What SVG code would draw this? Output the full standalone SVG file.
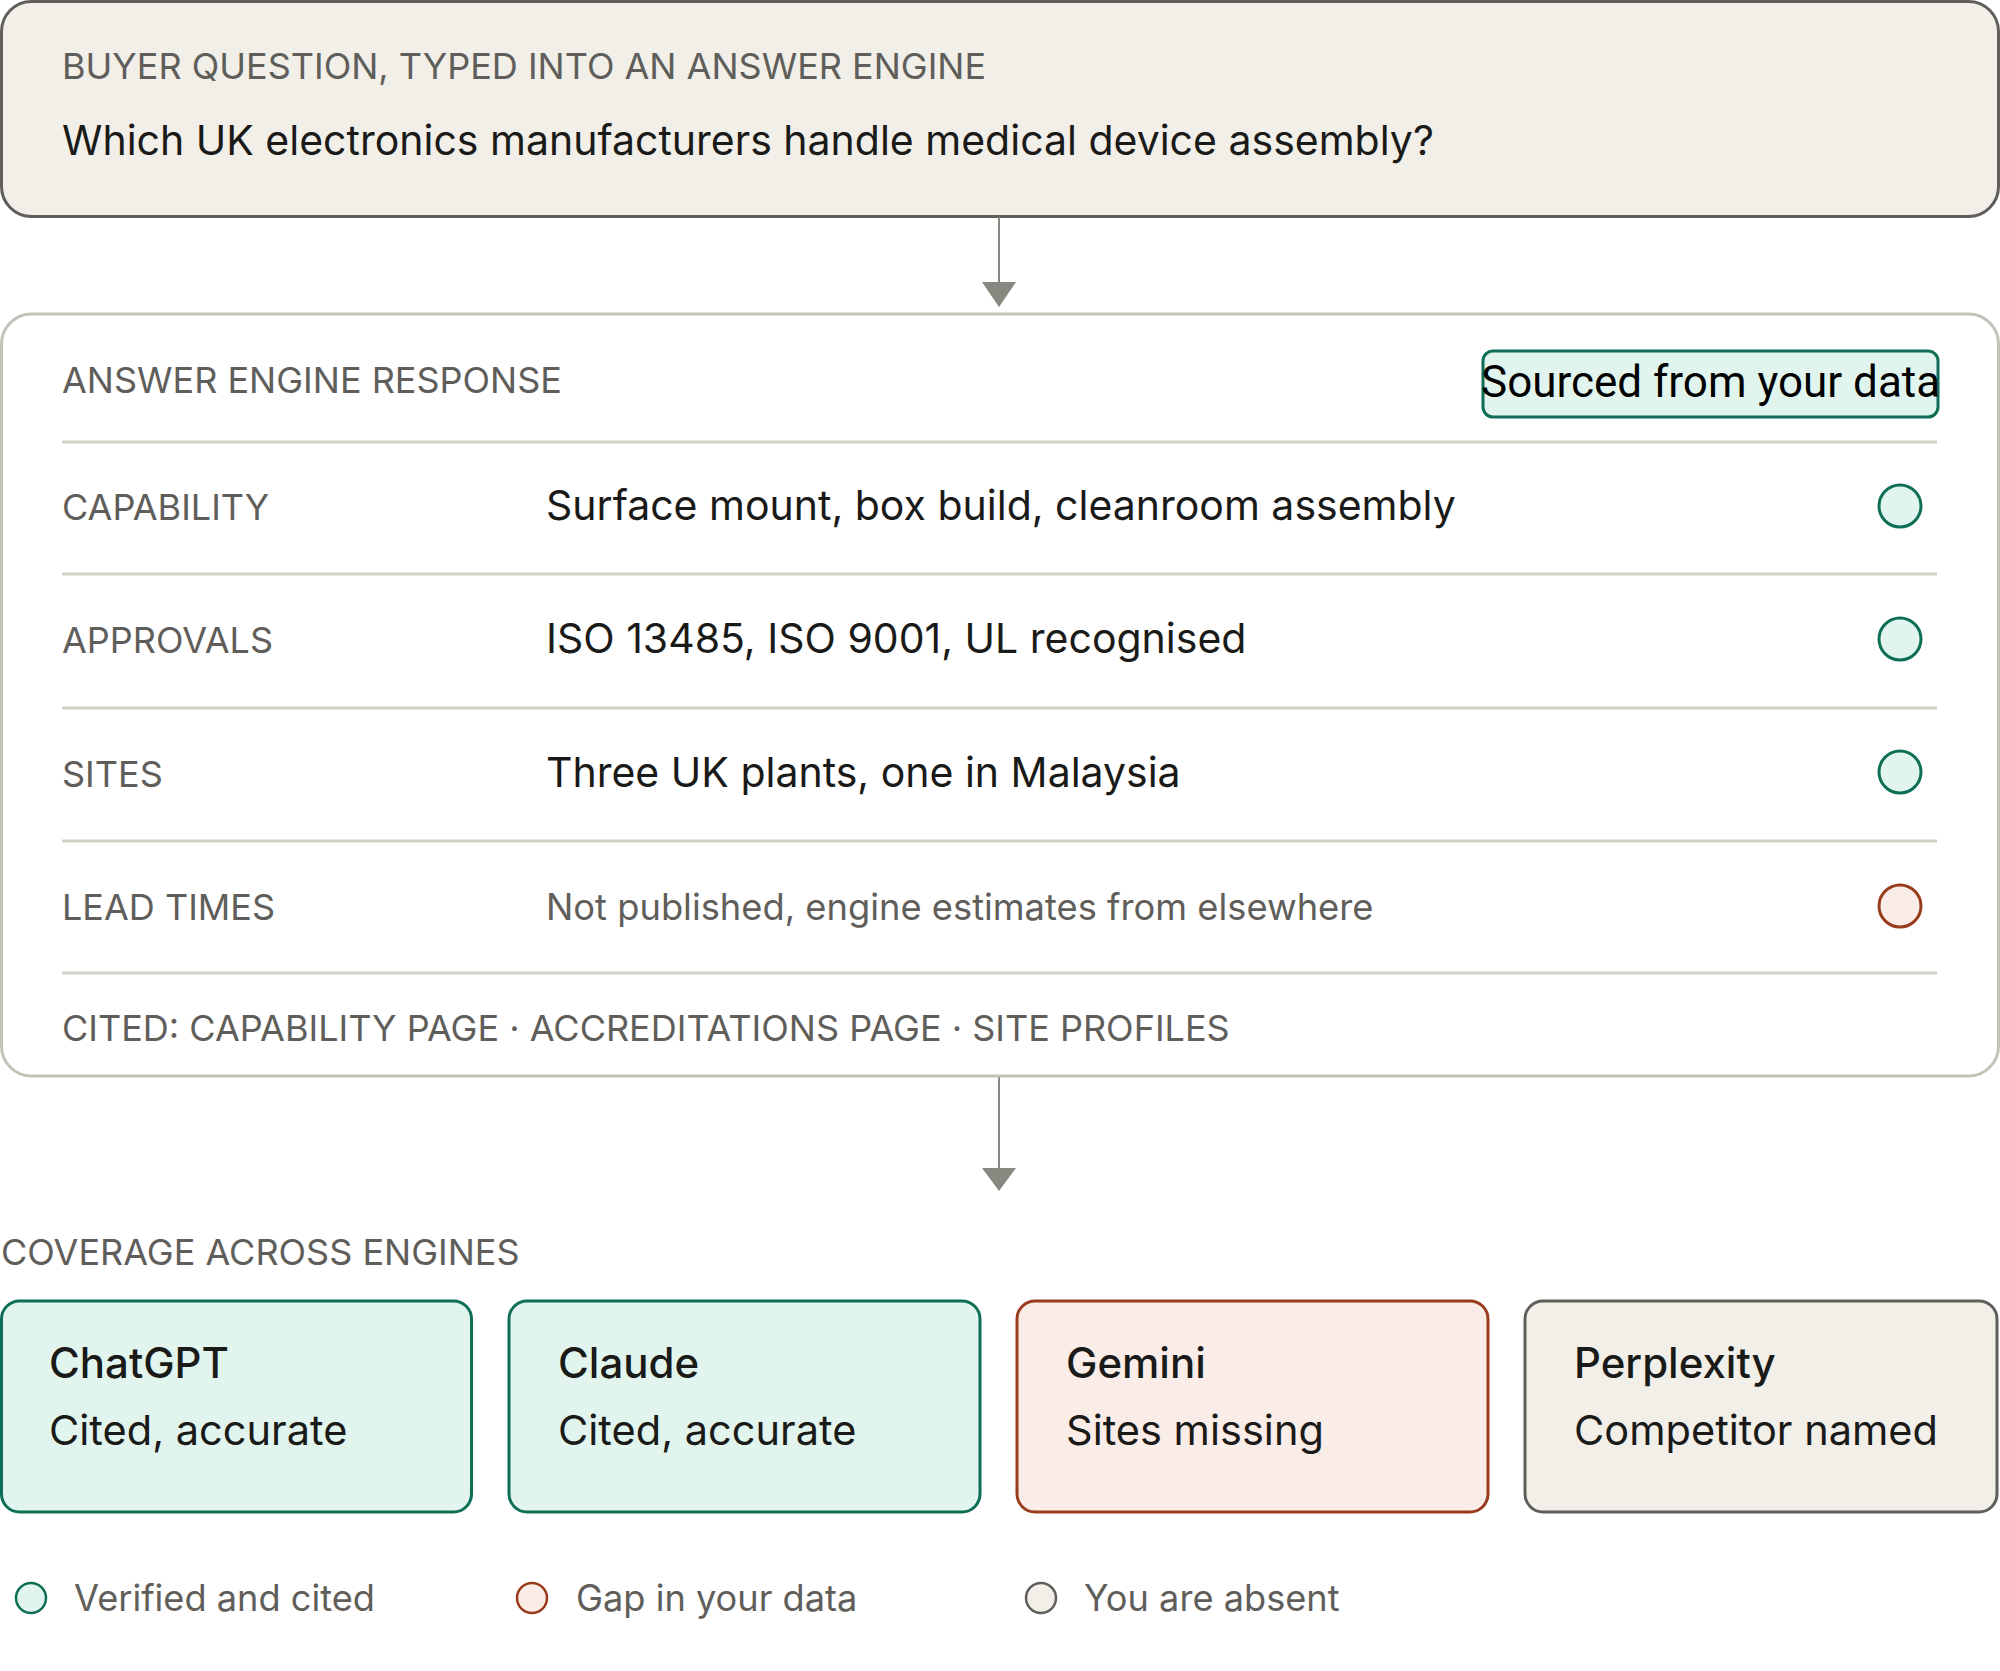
<svg xmlns="http://www.w3.org/2000/svg" width="2000" height="1671" viewBox="0 0 2000 1671">
<style>
text{font-family:"Inter","Noto Sans","Liberation Sans",sans-serif}
.lbl{font-size:36px;fill:#5f5e5a}
.main{font-size:41px;fill:#1a1a18}
.sub{font-size:36.3px;fill:#5f5e5a}
.ttl{font-size:42px;font-weight:500;fill:#1a1a18}
.card{font-size:41.5px;fill:#1a1a18}
.leg{font-size:36.2px;fill:#5f5e5a}
.sep{stroke:#d3d1c7;stroke-width:3}
.ok{fill:#e1f5ee;stroke:#0f6e56;stroke-width:3}
.gap{fill:#faece7;stroke:#993c1d;stroke-width:3}
.abs{fill:#f1efe8;stroke:#5f5e5a;stroke-width:3}
.conn{stroke:#888780;stroke-width:2;fill:none}
.head{fill:#888780}
</style>
<g id="question">
<rect x="1.5" y="1.5" width="1997" height="215" rx="30" fill="#f1efe8" stroke="#5f5e5a" stroke-width="3"/>
<text class="lbl" x="62" y="79">BUYER QUESTION, TYPED INTO AN ANSWER ENGINE</text>
<text class="main" x="62" y="155">Which UK electronics manufacturers handle medical device assembly?</text>
</g>
<g id="connectors">
<line class="conn" x1="999" y1="217" x2="999" y2="284"/>
<path class="head" d="M982,282 L1016,282 L999,307 z"/>
<line class="conn" x1="999" y1="1076" x2="999" y2="1170"/>
<path class="head" d="M982,1168 L1016,1168 L999,1191 z"/>
</g>
<g id="response">
<rect x="1.5" y="314" width="1997" height="762" rx="30" fill="#ffffff" stroke="#c4c2b8" stroke-width="3"/>
<text class="lbl" x="62" y="393">ANSWER ENGINE RESPONSE</text>
<rect x="1483" y="351" width="455" height="66" rx="10" fill="#e1f5ee" stroke="#0f6e56" stroke-width="3"/>
<text x="1481" y="397" style="font-size:44px;fill:#000;font-family:'Roboto','Inter',sans-serif">Sourced from your data</text>
<line class="sep" x1="62" y1="442" x2="1937" y2="442"/>
<line class="sep" x1="62" y1="574" x2="1937" y2="574"/>
<line class="sep" x1="62" y1="708" x2="1937" y2="708"/>
<line class="sep" x1="62" y1="841" x2="1937" y2="841"/>
<line class="sep" x1="62" y1="973" x2="1937" y2="973"/>
<text class="lbl" x="62" y="520">CAPABILITY</text>
<text class="main" x="546" y="520">Surface mount, box build, cleanroom assembly</text>
<circle class="ok" cx="1900" cy="506" r="21"/>
<text class="lbl" x="62" y="653">APPROVALS</text>
<text class="main" x="546" y="653">ISO 13485, ISO 9001, UL recognised</text>
<circle class="ok" cx="1900" cy="639" r="21"/>
<text class="lbl" x="62" y="787">SITES</text>
<text class="main" x="546" y="787">Three UK plants, one in Malaysia</text>
<circle class="ok" cx="1900" cy="772" r="21"/>
<text class="lbl" x="62" y="920">LEAD TIMES</text>
<text class="sub" x="546" y="920">Not published, engine estimates from elsewhere</text>
<circle class="gap" cx="1900" cy="906" r="21"/>
<text class="lbl" x="62" y="1041">CITED: CAPABILITY PAGE · ACCREDITATIONS PAGE · SITE PROFILES</text>
</g>
<text class="lbl" x="1" y="1265">COVERAGE ACROSS ENGINES</text>
<g id="chatgpt">
<rect class="ok" x="1.5" y="1301" width="470" height="211" rx="18"/>
<text class="ttl" x="49" y="1378">ChatGPT</text>
<text class="card" x="49" y="1445">Cited, accurate</text>
</g>
<g id="claude">
<rect class="ok" x="509" y="1301" width="471" height="211" rx="18"/>
<text class="ttl" x="558" y="1378">Claude</text>
<text class="card" x="558" y="1445">Cited, accurate</text>
</g>
<g id="gemini">
<rect class="gap" x="1017" y="1301" width="471" height="211" rx="18"/>
<text class="ttl" x="1066" y="1378">Gemini</text>
<text class="card" x="1066" y="1445">Sites missing</text>
</g>
<g id="perplexity">
<rect class="abs" x="1525" y="1301" width="472" height="211" rx="18"/>
<text class="ttl" x="1574" y="1378">Perplexity</text>
<text class="card" x="1574" y="1445">Competitor named</text>
</g>
<g id="legend">
<circle class="ok" cx="31" cy="1598" r="15" style="stroke-width:2.5"/>
<text class="leg" x="74" y="1611">Verified and cited</text>
<circle class="gap" cx="532" cy="1598" r="15" style="stroke-width:2.5"/>
<text class="leg" x="576" y="1611">Gap in your data</text>
<circle class="abs" cx="1041" cy="1598" r="15" style="stroke-width:2.5"/>
<text class="leg" x="1084" y="1611">You are absent</text>
</g>
</svg>
